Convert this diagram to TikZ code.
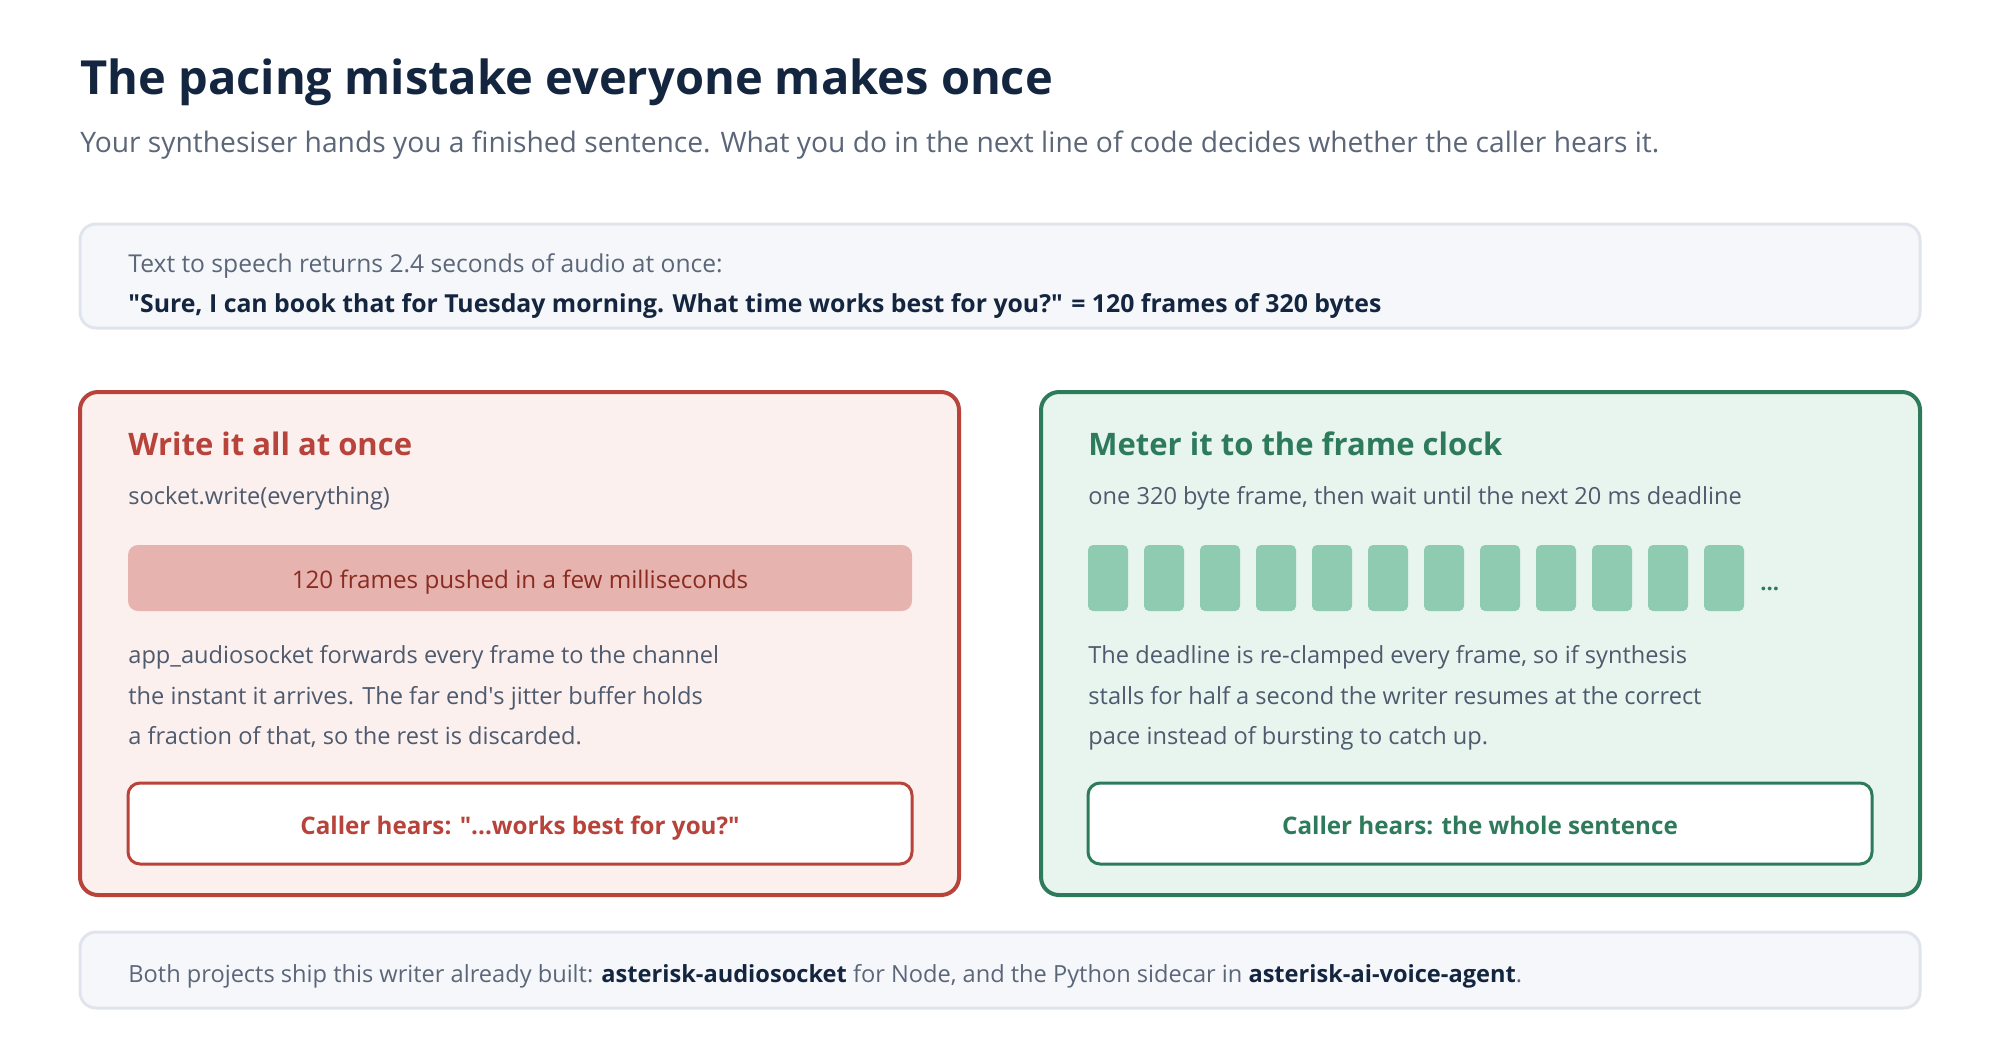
\documentclass[tikz,border=0pt]{standalone}
\usepackage{fontspec}
\setmainfont{Open Sans}
\usetikzlibrary{positioning}

\definecolor{ink}{HTML}{14263F}
\definecolor{slate}{HTML}{5B6679}
\definecolor{bodytxt}{HTML}{4E5A6D}
\definecolor{redline}{HTML}{B7433A}
\definecolor{redfill}{HTML}{FCF0EF}
\definecolor{redbar}{HTML}{E6B3AE}
\definecolor{redtxt}{HTML}{8A2B22}
\definecolor{greenline}{HTML}{2E7B5C}
\definecolor{greenfill}{HTML}{E8F5EF}
\definecolor{greenframe}{HTML}{8FCBB0}
\definecolor{notefill}{HTML}{F5F7FA}
\definecolor{noteline}{HTML}{E0E5ED}

\tikzset{
    note/.style={draw=noteline, fill=notefill, line width=1.5pt, rounded corners=8pt},
    panel/.style={line width=2pt, rounded corners=9pt},
    resultbox/.style={fill=white, line width=1.5pt, rounded corners=6pt},
    txt/.style={inner sep=0pt, anchor=base west, color=bodytxt,
        font=\fontsize{11.8}{14}\selectfont},
    heading/.style={txt, font=\fontsize{15.5}{18}\bfseries},
    verdict/.style={txt, anchor=base, font=\fontsize{12.1}{14}\bfseries}
}

\begin{document}
\begin{tikzpicture}
        [x=0.5pt, y=-0.5pt]
        \useasboundingbox[fill=white] (0,0) rectangle (2000,1040);
        % heading
        \node[txt, color=ink, font=\fontsize{23.5}{28}\bfseries] (title)
            at (80,94) {The pacing mistake everyone makes once};
        \node[txt, color=slate, font=\fontsize{14.1}{17}\selectfont] (subtitle)
            at (80,152) {Your synthesiser hands you a finished sentence. What you do in the next line of code decides whether the caller hears it.};
        % what the synthesiser gives back
        \draw[note] (80,224) rectangle (1920,328);
        \node[txt, color=slate, font=\fontsize{12.3}{14}\selectfont] (ttsnote)
            at (128,272) {Text to speech returns 2.4 seconds of audio at once:};
        \node[txt, color=ink, font=\fontsize{12.4}{14}\bfseries] (ttsline)
            at (128,312) {\textquotedbl Sure, I can book that for Tuesday morning. What time works best for you?\textquotedbl{} = 120 frames of 320 bytes};
        % left: burst
        \draw[panel, draw=redline, fill=redfill] (80,392) rectangle (959,895);
        \node[heading, color=redline] (lefttitle)
            at (128,455) {Write it all at once};
        \node[txt] (leftcode) at (128,504) {socket.write(everything)};
        \fill[redbar, rounded corners=5pt] (128,545) rectangle (912,611);
        \node[txt, anchor=base, color=redtxt, font=\fontsize{12.1}{14}\selectfont] (burst)
            at (520,588) {120 frames pushed in a few milliseconds};
        \node[txt] (left1) at (128,663) {app\_audiosocket forwards every frame to the channel};
        \node[txt] (left2) at (128,704) {the instant it arrives. The far end\textquotesingle s jitter buffer holds};
        \node[txt] (left3) at (128,744) {a fraction of that, so the rest is discarded.};
        \draw[resultbox, draw=redline] (128,783) rectangle (912,864);
        \node[verdict, color=redline] (leftresult)
            at (520,834) {Caller hears: \textquotedbl...works best for you?\textquotedbl};
        % right: paced
        \draw[panel, draw=greenline, fill=greenfill] (1041,392) rectangle (1920,895);
        \node[heading, color=greenline] (righttitle)
            at (1088,455) {Meter it to the frame clock};
        \node[txt] (rightcode) at (1088,504) {one 320 byte frame, then wait until the next 20 ms deadline};
        \foreach \i in {0,...,11}
            \fill[greenframe, rounded corners=2.5pt]
                (1088+\i*56,545) rectangle ++(40,66);
        \node[txt, color=greenline, font=\fontsize{11}{14}\bfseries] (dots)
            at (1760,590) {...};
        \node[txt] (right1) at (1088,663) {The deadline is re-clamped every frame, so if synthesis};
        \node[txt] (right2) at (1088,704) {stalls for half a second the writer resumes at the correct};
        \node[txt] (right3) at (1088,744) {pace instead of bursting to catch up.};
        \draw[resultbox, draw=greenline] (1088,783) rectangle (1872,864);
        \node[verdict, color=greenline] (rightresult)
            at (1480,834) {Caller hears: the whole sentence};
        % footer
        \draw[note] (80,932) rectangle (1920,1008);
        \node[txt, color=slate] (footer)
            at (128,982) {Both projects ship this writer already built: {\color{ink}\bfseries asterisk-audiosocket} for Node, and the Python sidecar in {\color{ink}\bfseries asterisk-ai-voice-agent}.};
        \end{tikzpicture}
\end{document}
